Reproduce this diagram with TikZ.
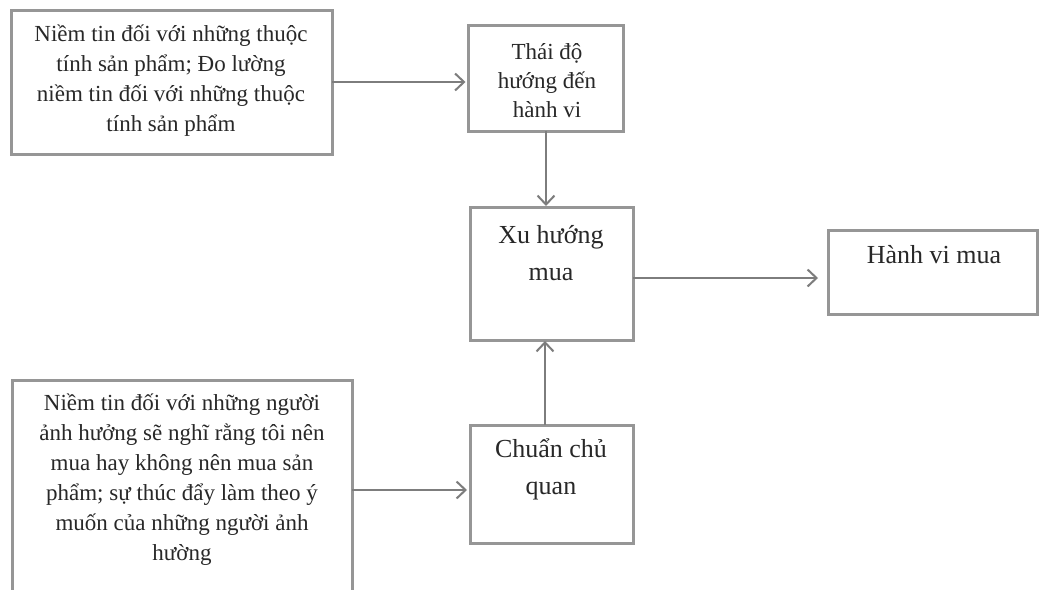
\documentclass[tikz,border=0pt]{standalone}
\usepackage{fontspec}
\setmainfont{Liberation Serif}
\usetikzlibrary{arrows.meta}
\definecolor{boxgray}{RGB}{150,150,150}
\definecolor{arrowgray}{RGB}{125,125,125}
\definecolor{ink}{RGB}{40,40,40}
\begin{document}
\begin{tikzpicture}[x=1pt,y=-1pt,
  box/.style={draw=boxgray, line width=3pt, fill=white, rectangle,
    inner sep=0pt, outer sep=0pt},
  small/.style={text=ink, align=center, inner sep=0pt,
    font=\fontsize{23}{30}\selectfont},
  large/.style={text=ink, align=center, inner sep=0pt,
    font=\fontsize{26}{37}\selectfont},
  link/.style={draw=arrowgray, line width=2pt,
    -{Straight Barb[length=9pt,width=17pt,line width=2pt]}}]
\useasboundingbox[fill=white] (0,0) rectangle (1041,589);

% boxes
\node[box, minimum width=321pt, minimum height=144pt] (b1) at (171.5,82) {};
\node[box, minimum width=155pt, minimum height=106pt] (b2) at (546,78) {};
\node[box, minimum width=163pt, minimum height=133pt] (b3) at (551.5,273.5) {};
\node[box, minimum width=340pt, minimum height=215pt] (b4) at (182,487.5) {};
\node[box, minimum width=163pt, minimum height=118pt] (b5) at (551.5,484) {};
\node[box, minimum width=209pt, minimum height=84pt] (b6) at (932.5,272) {};

% texts
\node[small] (t1) at (171,81) {Niềm tin đối với những thuộc\\tính sản phẩm; Đo lường\\niềm tin đối với những thuộc\\tính sản phẩm};
\node[small, font=\fontsize{23}{29}\selectfont] (t2) at (547,81) {Thái độ\\hướng đến\\hành vi};
\node[large] (t3) at (551,253) {Xu hướng\\mua};
\node[small] (t4) at (182,480) {Niềm tin đối với những người\\ảnh hưởng sẽ nghĩ rằng tôi nên\\mua hay không nên mua sản\\phẩm; sự thúc đẩy làm theo ý\\muốn của những người ảnh\\hường};
\node[large] (t5) at (551,469) {Chuẩn chủ\\quan};
\node[large] (t6) at (934,255) {Hành vi mua};

% connectors
\draw[link, shorten >=3pt] (b1.east) -- (b1.east -| b2.west);
\draw[link, shorten >=1pt] (b2.south) -- (b2.south |- b3.north);
\draw[link, shorten >=10pt] ([yshift=-4.5pt]b3.east) -- ([yshift=-4.5pt]b3.east -| b6.west);
\draw[link, shorten >=3pt] ([yshift=-2.5pt]b4.east) -- ([yshift=-2.5pt]b4.east -| b5.west);
\draw[link, shorten >=1pt] ([xshift=-6.5pt]b5.north) -- ([xshift=-6.5pt]b5.north |- b3.south);
\end{tikzpicture}
\end{document}
